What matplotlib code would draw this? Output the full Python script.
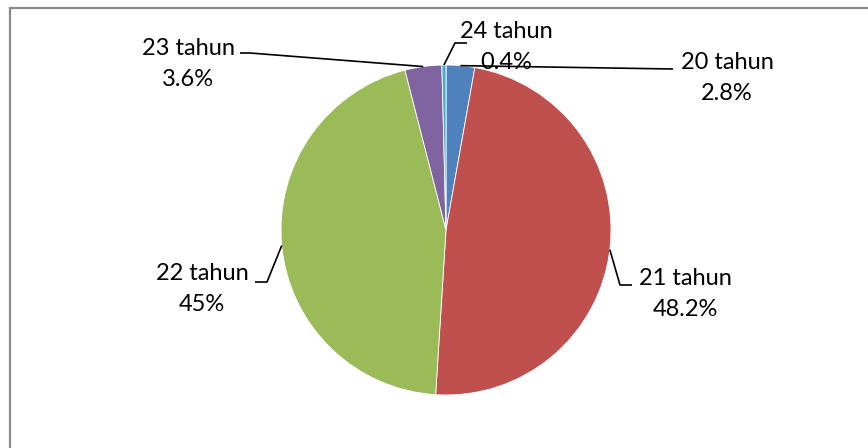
import numpy as np
import matplotlib.pyplot as plt

# data
labels = ['20 tahun', '21 tahun', '22 tahun', '23 tahun', '24 tahun']
pct = [2.8, 48.2, 45.0, 3.6, 0.4]
pct_text = ['2.8%', '48.2%', '45%', '3.6%', '0.4%']
colors = ['#4F81BD', '#C0504D', '#9BBB59', '#8064A2', '#4BACC6']

W, H = 868, 448
CX, CY, R = 446, 230, 165   # pie center / radius in pixels (from top)

# label centers (pixels from top) and leader elbow points
label_pos = [(727, 78), (685, 294), (202, 289), (188, 64), (506, 47)]
elbows = [
    [(673, 69)],
    [(620, 285), (632, 285)],
    [(267, 282), (255, 282)],
    [(250, 53), (240, 53)],
    [(455, 43), (467, 43)],
]


def fy(y):
    return H - y


fig = plt.figure(figsize=(W / 100, H / 100), dpi=100)
ax = fig.add_axes([0, 0, 1, 1])

ax.pie(pct, colors=colors, startangle=90, counterclock=False,
       center=(CX, fy(CY)), radius=R,
       wedgeprops=dict(edgecolor='white', linewidth=0.6))

ax.set_xlim(0, W)
ax.set_ylim(0, H)
ax.set_aspect('equal')
ax.axis('off')

# leader lines + labels
cum = np.cumsum([0] + pct)
for i, lab in enumerate(labels):
    mid = (cum[i] + cum[i + 1]) / 2 / 100 * 360
    ax_x = CX + R * np.sin(np.radians(mid))
    ax_y = CY - R * np.cos(np.radians(mid))
    pts = [(ax_x, ax_y)] + elbows[i]
    xs = [p[0] for p in pts]
    ys = [fy(p[1]) for p in pts]
    ax.plot(xs, ys, color='black', lw=1.2, solid_capstyle='butt', zorder=3)
    lx, ly = label_pos[i]
    ax.text(lx, fy(ly), f'{lab}\n{pct_text[i]}', ha='center', va='center',
            multialignment='center', fontsize=17, family='Lato',
            linespacing=1.6, color='black', zorder=4)

# chart border (left and top edges visible)
ax.plot([10, 10, W], [0, fy(8), fy(8)], color='#8a8a8a', lw=1.6,
        solid_joinstyle='miter', clip_on=False)

fig.savefig('out.png', dpi=100)
